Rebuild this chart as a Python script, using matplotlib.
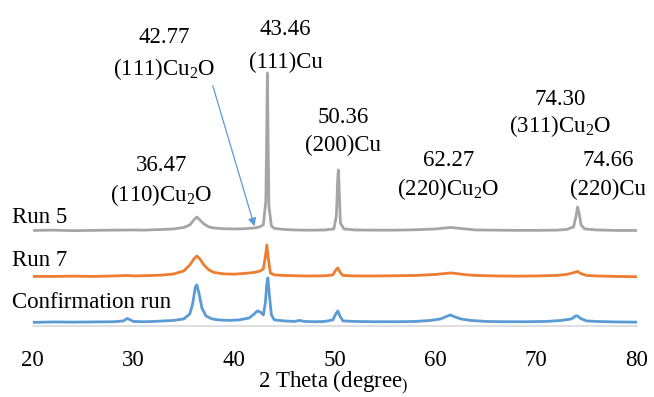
import matplotlib.pyplot as plt

plt.rcParams['font.family'] = ['Liberation Serif', 'DejaVu Serif']
plt.rcParams['mathtext.fontset'] = 'custom'
plt.rcParams['mathtext.rm'] = 'Liberation Serif'

# XRD traces, 2 theta (degree) and intensity (a.u.)
run5_x = [20, 22, 24, 26, 28, 30, 31, 32, 33, 34, 35, 35.6, 36.0, 36.3, 36.6, 37.0, 37.5, 38, 39, 40,
          41, 42, 42.5, 42.9, 43.15, 43.25, 43.3, 43.35, 43.45, 43.7, 44, 45, 46, 47, 48, 49, 49.9, 50.15,
          50.28, 50.35, 50.42, 50.55, 50.9, 52, 54, 56, 58, 60, 61, 61.5, 62, 63, 64, 66, 68, 70, 72,
          73, 73.7, 73.95, 74.1, 74.25, 74.45, 74.8, 76, 78, 80]
run5_y = [0.5, 0.8, 0.3, 0.6, 0.8, 1.0, 0.8, 1.2, 1.5, 2.0, 3.5, 6, 11, 14, 11, 7, 4, 3, 2.2, 2,
          2.2, 3, 4, 6, 30, 110, 158, 110, 25, 5, 2.5, 1.5, 1, 0.8, 0.8, 1, 2, 15,
          50, 61, 45, 8, 2, 1, 0.8, 0.8, 1.2, 2, 3, 3.5, 3, 2, 1, 0.8, 0.6, 0.6, 0.8,
          1.5, 4, 15, 24, 18, 6, 2, 1, 0.5, 0.5]

run7_x = [20, 22, 24, 26, 28, 29.5, 30, 32, 33, 34, 35, 35.6, 36.0, 36.3, 36.6, 37.0, 37.5, 38, 39,
          40, 41, 42, 42.6, 42.9, 43.1, 43.25, 43.4, 43.6, 44, 45, 46, 47, 48, 49, 49.8, 50.1, 50.3,
          50.5, 50.8, 52, 54, 56, 58, 60, 61, 61.5, 62, 63, 64, 66, 68, 70, 72, 73, 73.8, 74.1, 74.4,
          75, 76, 78, 80]
run7_y = [0.5, 0.5, 0.8, 0.5, 1, 1.5, 1, 1.5, 2, 3, 6, 12, 18, 21, 18, 12, 7, 4.5, 3,
          2.8, 3.5, 4.5, 6, 8, 20, 32, 18, 4, 2, 1.5, 1.2, 1, 1, 1.2, 2, 7, 9,
          5, 1.5, 1, 1, 1.2, 1.5, 2.5, 3.5, 4, 3.5, 2.2, 1.5, 1, 0.8, 1, 1.5, 2.5, 4.5, 5.5, 3.5,
          1.5, 1, 0.5, 0.2]

conf_x = [20, 22, 24, 26, 28, 29, 29.4, 29.7, 30, 31, 32, 33, 34, 35, 35.6, 35.9, 36.15, 36.3, 36.5,
          36.8, 37.2, 37.8, 38.5, 39.5, 40.5, 41.5, 42, 42.3, 42.6, 42.9, 43.1, 43.25, 43.35, 43.5,
          43.7, 44, 45, 46, 46.5, 47, 48, 49, 49.8, 50.1, 50.3, 50.5, 50.8, 52, 54, 56, 58, 59.5,
          60.5, 61.2, 61.5, 61.8, 62.5, 63.5, 65, 67, 69, 71, 72.5, 73.5, 73.9, 74.1, 74.4, 75, 76,
          77, 78, 80]
conf_y = [0.5, 1, 0.8, 1, 1.2, 2, 4.5, 3, 1.5, 1.2, 1.5, 2, 2.5, 4, 9, 20, 36, 38, 30,
          15, 7, 4, 3, 2.5, 3, 5, 9, 12, 11, 8, 20, 40, 45, 28,
          8, 3, 2, 1.5, 2.5, 1.5, 1.2, 1.5, 3, 9, 12, 7, 2, 1.5, 1.2, 1.2, 1.5, 2.5,
          4, 7, 8, 6.5, 4, 2.5, 1.5, 1.2, 1.2, 1.5, 2.5, 4, 7, 7, 4.5, 2, 1.5,
          1.2, 1, 0.8]

run_names = ['Run 5', 'Run 7', 'Confirmation run']
sub2 = r'$\mathregular{_2}$'
peak_labels = [('43.46', '(111)Cu'), ('42.77', '(111)Cu' + sub2 + 'O'), ('50.36', '(200)Cu'),
               ('36.47', '(110)Cu' + sub2 + 'O'), ('62.27', '(220)Cu' + sub2 + 'O'),
               ('74.30', '(311)Cu' + sub2 + 'O'), ('74.66', '(220)Cu')]

fig = plt.figure(figsize=(6.54, 3.97), dpi=100)
ax = fig.add_axes([0.050, 0.179, 0.924, 0.821])

offsets = [95, 49, 3]
colors = ['#A5A5A5', '#ED7D31', '#5B9BD5']
traces = [(run5_x, run5_y), (run7_x, run7_y), (conf_x, conf_y)]
for (xs, ys), off, c in zip(traces, offsets, colors):
    ax.plot(xs, [v + off for v in ys], color=c, lw=2, solid_joinstyle='round')

fs = 16.5
# run names on the left
name_y = [108, 65, 23]
for name, ny in zip(run_names, name_y):
    ax.text(-0.035, ny, name, transform=ax.get_yaxis_transform(),
            fontsize=fs, ha='left', va='center')

# peak annotations
label_pos = [(45.1, 296, 264), (33.1, 288, 257), (50.8, 208, 181),
             (32.8, 160, 131), (61.3, 165, 137), (72.4, 226, 200), (77.15, 165, 137)]
for (num, lab), (lx, y1, y2) in zip(peak_labels, label_pos):
    ax.text(lx, y1, num, fontsize=fs, ha='center', va='center')
    ax.text(lx, y2, lab, fontsize=fs, ha='center', va='center')

ax.annotate('', xy=(42.1, 97), xytext=(37.8, 243),
            arrowprops=dict(arrowstyle='-|>', color='#5B9BD5', lw=0.9, mutation_scale=12))

ax.set_xlim(20, 80)
ax.set_ylim(0, 326)
ax.set_xticks([20, 30, 40, 50, 60, 70, 80])
ax.set_yticks([])
for s in ['top', 'right', 'left']:
    ax.spines[s].set_visible(False)
ax.spines['bottom'].set_color('#D9D9D9')
ax.spines['bottom'].set_linewidth(1.2)
ax.tick_params(axis='x', length=0, pad=17, labelsize=fs)

# x axis title, with the small closing bracket of the original
fig.text(333 / 654, 0.022, r'2 Theta (degree$\mathregular{_)}$', fontsize=fs,
         ha='center', va='baseline')

fig.savefig('out.png', dpi=100)
